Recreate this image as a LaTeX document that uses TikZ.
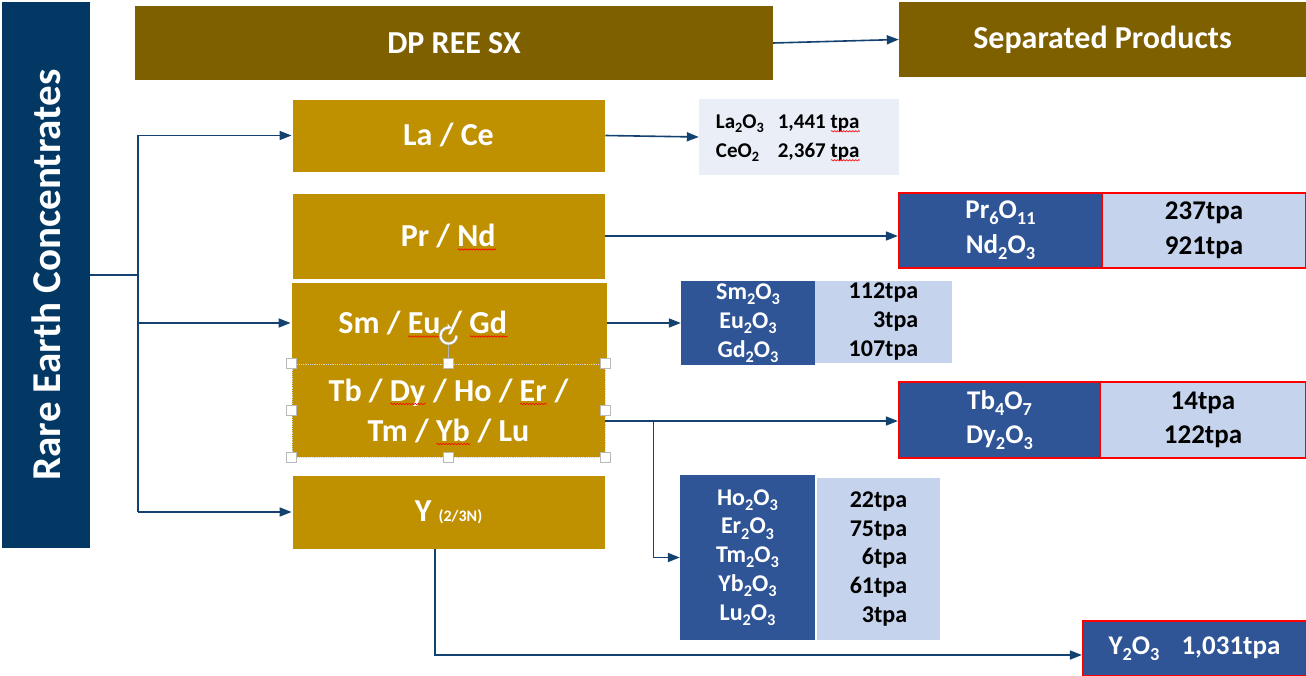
\documentclass[tikz,border=0pt]{standalone}
\usepackage{fontspec}
\setmainfont{Carlito}
\usetikzlibrary{arrows.meta,decorations.pathmorphing,calc}
\definecolor{navy}{RGB}{3,56,101}
\definecolor{olive}{RGB}{127,96,0}
\definecolor{gold}{RGB}{191,144,0}
\definecolor{dblue}{RGB}{47,85,151}
\definecolor{lblue}{RGB}{197,211,236}
\definecolor{pale}{RGB}{233,238,247}
\definecolor{conn}{RGB}{20,66,112}
\newsavebox\sqbox
\newcommand\sq[1]{\sbox\sqbox{#1}\rlap{\usebox\sqbox}\raisebox{-4pt}[0pt][0pt]{\tikz\draw[red,line width=0.6pt,decorate,decoration={snake,amplitude=0.7pt,segment length=3pt}] (0pt,0pt) -- (\wd\sqbox,0pt);}}
\newcommand\sub[1]{\raisebox{-0.22em}{\scalebox{0.68}{#1}}}
\begin{document}
\begin{tikzpicture}[x=1pt,y=-1pt,
  box/.style={rectangle,inner sep=0pt,font=\bfseries},
  bigbox/.style={box,fill=olive,text=white,font=\bfseries\fontsize{32}{38}\selectfont},
  goldbox/.style={box,fill=gold,draw=white,line width=0.8pt,text=white,align=center,font=\bfseries\fontsize{32}{40}\selectfont},
  darkbox/.style={box,fill=dblue,text=white,align=center},
  lightbox/.style={box,fill=lblue,text=black,align=right},
  redframe/.style={draw=red,line width=2.2pt},
  arr/.style={draw=conn,line width=1.6pt,-{Triangle[length=12pt,width=9pt]}},
  cline/.style={draw=conn,line width=1.6pt},
  handle/.style={rectangle,draw=gray!55,fill=white,line width=0.8pt,minimum size=10pt,inner sep=0pt}]
\useasboundingbox (0,0) rectangle (1306,676);

% left bar
\node[box,fill=navy,minimum width=88,minimum height=546] (rec) at (46,275)
  {\rotatebox{90}{\textcolor{white}{\fontsize{41}{48}\selectfont Rare Earth Concentrates}}};

% top row
\node[bigbox,minimum width=638,minimum height=74] (dp) at (454,43) {DP REE SX};
\node[bigbox,minimum width=407,minimum height=75] (sep) at (1102.5,39.5) {Separated Products};

% gold boxes
\node[goldbox,minimum width=313,minimum height=73] (lace) at (448.5,135.5) {La / Ce};
\node[goldbox,minimum width=313,minimum height=86] (prnd) at (448.5,236) {Pr / \sq{Nd}};
\node[goldbox,minimum width=316,minimum height=82] (smeu) at (449,323) {Sm / \sq{Eu} / \sq{Gd}\hspace{52pt}};
\node[goldbox,minimum width=313,minimum height=93,draw=gray!35,densely dotted] (tb) at (448.5,410.5)
  {Tb / \sq{Dy} / Ho / \sq{Er} /\\ Tm / \sq{Yb} / Lu};
\node[goldbox,minimum width=313,minimum height=74] (y) at (448.5,512)
  {Y {\fontsize{16}{18}\selectfont (2/3N)}};

% product boxes
\node[box,fill=pale,minimum width=200,minimum height=76,font=\bfseries\fontsize{21}{29}\selectfont] (lab) at (799,137)
  {\begin{tabular}{@{}l@{\hspace{14pt}}l@{\hspace{22pt}}}La\sub2O\sub3 & 1,441 \sq{tpa}\\ CeO\sub2 & 2,367 \sq{tpa}\end{tabular}};

\node[darkbox,redframe,minimum width=203,minimum height=75,font=\bfseries\fontsize{27}{35}\selectfont] (prnda) at (1000.5,230.5)
  {Pr\sub6O\sub{11}\\ Nd\sub2O\sub3};
\node[lightbox,redframe,align=center,minimum width=204,minimum height=75,font=\bfseries\fontsize{27}{35}\selectfont] (prndb) at (1204,230.5)
  {237tpa\\ 921tpa};

\node[darkbox,minimum width=134,minimum height=84,font=\bfseries\fontsize{24}{29}\selectfont] (sma) at (748,323)
  {Sm\sub2O\sub3\\ Eu\sub2O\sub3\\ Gd\sub2O\sub3};
\node[lightbox,minimum width=137,minimum height=82,font=\bfseries\fontsize{24}{29}\selectfont] (smb) at (883.5,322)
  {112tpa\\ 3tpa\\ 107tpa};

\node[darkbox,redframe,minimum width=201,minimum height=76,font=\bfseries\fontsize{27}{34}\selectfont] (tba) at (999.5,420)
  {Tb\sub4O\sub7\\ Dy\sub2O\sub3};
\node[lightbox,redframe,align=center,minimum width=206,minimum height=76,font=\bfseries\fontsize{27}{34}\selectfont] (tbb) at (1203,420)
  {14tpa\\ 122tpa};

\node[darkbox,minimum width=135,minimum height=165,font=\bfseries\fontsize{24}{28.8}\selectfont] (hoa) at (747.5,557.5)
  {Ho\sub2O\sub3\\ Er\sub2O\sub3\\ Tm\sub2O\sub3\\ Yb\sub2O\sub3\\ Lu\sub2O\sub3};
\node[lightbox,minimum width=123,minimum height=162,font=\bfseries\fontsize{24}{28.8}\selectfont] (hob) at (878.5,559)
  {22tpa\\ 75tpa\\ 6tpa\\ 61tpa\\ 3tpa};

\node[darkbox,redframe,minimum width=223,minimum height=55,font=\bfseries\fontsize{27}{32}\selectfont] (yo) at (1194.5,648.5)
  {Y\sub2O\sub3\hspace{22pt}1,031tpa};

% connectors
\draw[arr] (dp.east) -- (sep.west);
\coordinate (trunk) at (138,275);
\draw[cline] (rec.east) -- (trunk);
\draw[cline] (lace.west -| trunk) -- (y.west -| trunk);
\draw[arr] (lace.west -| trunk) -- (lace.west);
\draw[arr] (smeu.west -| trunk) -- (smeu.west);
\draw[arr] (y.west -| trunk) -- (y.west);
\draw[arr] (lace.east) -- (lab.west);
\draw[arr] (prnd.east) -- (prnd.east -| prnda.west);
\draw[arr] (smeu.east) -- (sma.west);
\coordinate (tbout) at ($(tb.east)+(0,10.5)$);
\coordinate (br) at ($(tbout)+(48,0)$);
\draw[arr] (tbout) -- (tbout -| tba.west);
\draw[arr] (br) |- (hoa.west);
\coordinate (ydrop) at ($(y.south)+(-13.5,0)$);
\coordinate (yin) at ($(yo.west)+(0,6.5)$);
\draw[arr] (ydrop) |- (yin);

% selection handles
\coordinate (rot) at ($(tb.north)+(0,-28)$);
\draw[gray!60,line width=0.8pt] (tb.north) -- ($(rot)+(0,9)$);
\draw[gray!60,line width=3.2pt] ($(rot)+(8,0)$) arc[start angle=0,end angle=290,radius=8];
\draw[white,line width=1.8pt,-{Stealth[length=5pt,width=6pt]}] ($(rot)+(8,0)$) arc[start angle=0,end angle=290,radius=8];
\foreach \a [count=\i] in {north west,north,north east,west,east,south west,south,south east}
  \node[handle] (h\i) at (tb.\a) {};
\end{tikzpicture}
\end{document}
